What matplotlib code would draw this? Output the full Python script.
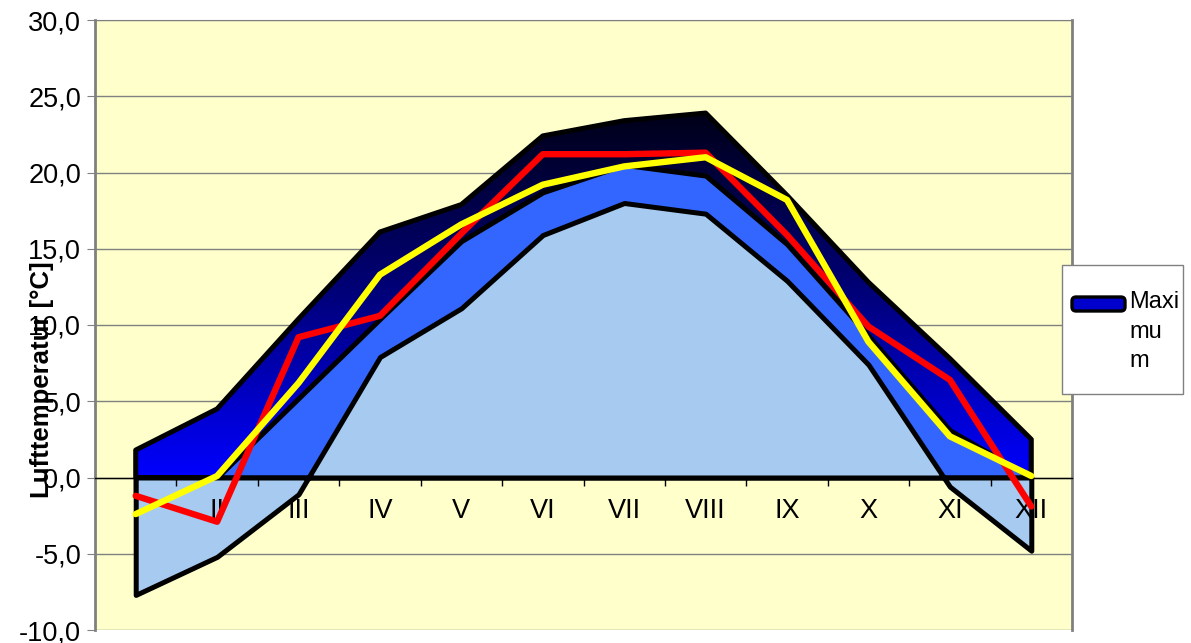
import matplotlib
matplotlib.use("Agg")
import matplotlib.pyplot as plt
import numpy as np
from matplotlib.colors import LinearSegmentedColormap
from matplotlib.patches import FancyBboxPatch, Rectangle
from matplotlib.ticker import FuncFormatter

plt.rcParams["font.family"] = ["Liberation Sans", "DejaVu Sans"]

MONTHS = ["I", "II", "III", "IV", "V", "VI", "VII", "VIII", "IX", "X", "XI", "XII"]
MAXIMUM = [1.8, 4.5, 10.4, 16.1, 17.9, 22.4, 23.4, 23.9, 18.5, 12.8, 7.8, 2.5]
UPPER = [-1.0, 0.0, 5.2, 10.4, 15.5, 18.7, 20.5, 19.8, 15.3, 9.3, 3.1, 0.0]
LOWER = [-7.7, -5.2, -1.1, 7.9, 11.1, 15.9, 18.0, 17.3, 12.9, 7.4, -0.6, -4.8]
RED_LINE = [-1.2, -2.9, 9.2, 10.6, 16.0, 21.2, 21.2, 21.3, 15.9, 9.9, 6.4, -1.9]
YELLOW_LINE = [-2.4, 0.1, 6.2, 13.3, 16.6, 19.2, 20.4, 21.0, 18.2, 8.9, 2.7, 0.1]

W, H = 1191, 643

fig = plt.figure(figsize=(W / 100, H / 100), dpi=100)
ax = fig.add_axes([95 / W, 13 / H, 977 / W, 610 / H])
ax.set_facecolor("#FFFFCC")

x = np.arange(len(MONTHS))

# dark gradient area (Maximum)
cmap = LinearSegmentedColormap.from_list("maxgrad", ["#0000FF", "#00007A", "#000018"])
grad = ax.imshow(np.linspace(0, 1, 256).reshape(-1, 1), extent=(x[0], x[-1], 0, max(MAXIMUM)),
                 origin="lower", aspect="auto", cmap=cmap, zorder=1)
poly = ax.fill_between(x, 0, MAXIMUM, facecolor="none", edgecolor="black", linewidth=3.6, zorder=2)
grad.set_clip_path(poly.get_paths()[0], ax.transData)

ax.fill_between(x, 0, UPPER, facecolor="#3366FF", edgecolor="black", linewidth=3.6, zorder=3)
ax.fill_between(x, 0, LOWER, facecolor="#A6CAF0", edgecolor="black", linewidth=3.6, zorder=4)

ax.plot(x, RED_LINE, color="#FF0000", linewidth=4.6, solid_capstyle="round", zorder=5)
ax.plot(x, YELLOW_LINE, color="#FFFF00", linewidth=4.6, solid_capstyle="round", zorder=6)

ax.set_xlim(-0.5, len(MONTHS) - 0.5)
ax.set_ylim(-10, 30)

ax.set_yticks(np.arange(-10, 31, 5))
ax.yaxis.set_major_formatter(FuncFormatter(lambda v, p: f"{v:.1f}".replace(".", ",")))
ax.yaxis.grid(True, color="#808080", linewidth=1)
ax.set_axisbelow(True)
ax.tick_params(axis="y", length=6, color="#808080", labelsize=19.5, pad=4)

ax.set_xticks(x)
ax.set_xticklabels(MONTHS)
ax.set_xticks(x[:-1] + 0.5, minor=True)
ax.tick_params(axis="x", which="major", length=0, pad=15, labelsize=19.5)
ax.tick_params(axis="x", which="minor", length=6, direction="out", color="black", width=1)
ax.xaxis.set_zorder(4.5)

ax.spines["bottom"].set_position(("data", 0))
ax.spines["bottom"].set_color("black")
ax.spines["bottom"].set_linewidth(1)
ax.spines["top"].set_color("#808080")
ax.spines["left"].set_color("#808080")
ax.spines["left"].set_linewidth(2)
ax.spines["right"].set_color("#808080")
ax.spines["right"].set_linewidth(2)

ax.text(-0.054, 0.41, "Lufttemperatur [°C]", transform=ax.transAxes, rotation=90,
        ha="center", va="center", fontsize=18.5, fontweight="bold", zorder=10)

# legend box, drawn by hand in pixel units
tr = fig.dpi_scale_trans
fig.add_artist(Rectangle((1062 / 100, (H - 394) / 100), 121 / 100, 129 / 100, transform=tr,
                         facecolor="white", edgecolor="#808080", linewidth=1, zorder=3))
fig.add_artist(FancyBboxPatch((1072 / 100, (H - 311) / 100), 53 / 100, 14 / 100, transform=tr,
                              boxstyle="round,pad=0,rounding_size=0.04",
                              facecolor="#0000CC", edgecolor="black", linewidth=2.4, zorder=4))
fig.text(1129 / 100, (H - 291) / 100, "Maxi\nmu\nm", transform=tr, ha="left", va="top",
         fontsize=17, linespacing=1.45, zorder=5)

fig.savefig("out.png", dpi=100)
